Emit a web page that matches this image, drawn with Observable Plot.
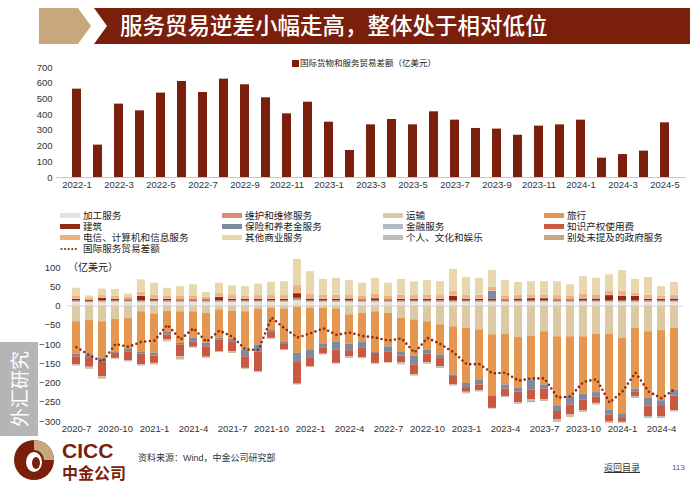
<!DOCTYPE html>
<html><head><meta charset="utf-8">
<script src="https://cdn.jsdelivr.net/npm/d3@7"></script>
<script src="https://cdn.jsdelivr.net/npm/@observablehq/plot@0.6"></script>
<style>
body{margin:0;width:700px;height:490px;position:relative;overflow:hidden;background:#fff;font-family:"Liberation Sans","Noto Sans CJK SC",sans-serif;color:#222;}
.abs{position:absolute;}
.lg{position:absolute;font-size:9.6px;line-height:11px;height:11px;white-space:nowrap;font-family:"Liberation Sans","Noto Sans CJK SC",sans-serif;display:flex;align-items:center;}
.sw{display:inline-block;width:20px;height:5px;margin-right:3px;}
</style></head><body>

<svg class="abs" style="left:0;top:0" width="700" height="52">
  <polygon points="39,8 78,8 91,26 78,44 39,44" fill="#c9a77c"/>
  <polygon points="94,8 690,8 690,44 94,44 107,26" fill="#7a1f0c"/>
  <text x="120" y="34" fill="#fff" font-size="22.5" font-weight="500" font-family="Noto Sans CJK SC">服务贸易逆差小幅走高，整体处于相对低位</text>
</svg>

<div class="abs" style="left:292px;top:58px;font-size:8.5px;font-family:'Liberation Sans','Noto Sans CJK SC';white-space:nowrap;line-height:10px;display:flex;align-items:center;"><span style="display:inline-block;width:7px;height:7px;background:#7a1f0c;margin-right:1px;"></span><span id="topLegendText"></span></div>
<div id="topchart" class="abs" style="left:0;top:55px"></div>

<div id="legend"></div>
<div class="abs" style="left:68px;top:262px;font-size:10px;font-family:'Liberation Sans','Noto Sans CJK SC';line-height:11px;">（亿美元）</div>
<div id="botchart" class="abs" style="left:0;top:258px"></div>

<div class="abs" style="left:0;top:342px;width:38px;height:94px;background:#b5b5b5;"></div>
<div class="abs" style="left:19px;top:389px;transform:translate(-50%,-50%) rotate(-90deg);color:#fff;font-size:19px;font-family:'Noto Sans CJK SC';white-space:nowrap;line-height:20px;">外汇研究</div>

<svg class="abs" style="left:0;top:436px" width="140" height="54">
  <circle cx="34" cy="24" r="20" fill="#7a1f0c"/>
  <path d="M34,4 A20,20 0 0 1 54,24 L44,24 A10,10 0 0 0 34,14 Z" fill="#c9a77c"/>
  <ellipse cx="34" cy="26" rx="8" ry="10" fill="#fff"/>
  <ellipse cx="36" cy="27" rx="4" ry="6" fill="#7a1f0c"/>
  <text x="62" y="22" fill="#7a1f0c" font-size="21" font-weight="bold" font-family="Liberation Sans">CICC</text>
  <text x="62" y="43" fill="#7a1f0c" font-size="16" font-weight="bold" font-family="Noto Sans CJK SC">中金公司</text>
</svg>
<div class="abs" style="left:138px;top:452px;font-size:9px;font-family:'Liberation Sans','Noto Sans CJK SC';line-height:12px;color:#333;">资料来源：Wind，中金公司研究部</div>
<div class="abs" style="left:604px;top:462px;font-size:9px;font-family:'Liberation Sans','Noto Sans CJK SC';line-height:12px;color:#333;text-decoration:underline;">返回目录</div>
<div class="abs" style="left:672px;top:462px;font-size:8px;line-height:12px;color:#555;">113</div>

<script>
// ---------- top chart data ----------
const topMonths = ["2022-1","2022-2","2022-3","2022-4","2022-5","2022-6","2022-7","2022-8","2022-9","2022-10","2022-11","2022-12",
  "2023-1","2023-2","2023-3","2023-4","2023-5","2023-6","2023-7","2023-8","2023-9","2023-10","2023-11","2023-12",
  "2024-1","2024-2","2024-3","2024-4","2024-5"];
const topValues = [562,206,467,424,537,611,541,626,590,507,405,479,352,172,335,369,335,418,365,312,308,269,327,335,365,123,146,168,348];
const topTicks = topMonths.filter((d,i)=>i%2===0);
const topLegend = "国际货物和服务贸易差额（亿美元）";

// ---------- bottom chart data ----------
const months = ["2020-7","2020-8","2020-9","2020-10","2020-11","2020-12",
  "2021-1","2021-2","2021-3","2021-4","2021-5","2021-6","2021-7","2021-8","2021-9","2021-10","2021-11","2021-12",
  "2022-1","2022-2","2022-3","2022-4","2022-5","2022-6","2022-7","2022-8","2022-9","2022-10","2022-11","2022-12",
  "2023-1","2023-2","2023-3","2023-4","2023-5","2023-6","2023-7","2023-8","2023-9","2023-10","2023-11","2023-12",
  "2024-1","2024-2","2024-3","2024-4","2024-5"];
const monthTicks = months.filter((d,i)=>i%3===0);

const processing   = [10,9,10,10,10,10,10,10,10,10,10,10,10,10,10,10,10,14,10,10,10,10,10,10,10,10,10,10,10,10,10,10,10,10,10,10,10,10,10,10,10,10,10,10,10,10,10];
const maintenance  = [3,3,3,3,3,3,3,3,3,3,3,3,3,3,3,3,3,6,3,3,3,3,3,3,3,3,3,3,3,3,3,3,3,3,3,3,3,3,3,3,3,3,3,3,3,3,3];
const transport    = [-41,-38,-41,-35,-32,-15,-21,-14,-15,-15,-19,-10,-14,-15,-8,-6,-8,-3,-6,-6,-8,-23,-19,-15,-19,-32,-36,-41,-49,-54,-58,-62,-75,-73,-81,-78,-67,-80,-80,-80,-73,-73,-84,-58,-67,-64,-58];
const travel       = [-84,-89,-95,-84,-81,-104,-102,-53,-82,-69,-78,-74,-73,-99,-93,-56,-85,-120,-108,-94,-85,-76,-76,-104,-87,-87,-94,-73,-78,-125,-143,-130,-160,-132,-133,-114,-138,-181,-155,-149,-152,-197,-196,-158,-173,-182,-160];
const construction = [4,3,7,4,3,12,4,4,3,3,3,9,4,4,4,4,4,12,5,4,4,5,3,6,3,4,4,4,4,12,4,4,5,3,5,6,6,3,3,5,5,14,12,12,4,4,5];
const insurance    = [-7,-7,-9,-4,-6,-6,-7,-8,-4,-9,-9,-4,-8,-18,-18,-5,-5,-24,-22,-10,-21,-17,-15,-4,-13,-11,-23,-11,-9,-4,-11,-13,20,-11,-9,-26,-11,-13,-22,-15,-12,-13,-10,-7,-20,-15,-16];
const finance      = [1,1,1,1,1,1,1,1,1,1,1,1,1,1,1,1,1,1,1,1,1,1,1,1,1,1,1,1,1,1,1,1,1,1,1,1,1,1,1,1,1,1,1,1,1,1,1];
const ipCharges    = [-21,-25,-39,-13,-23,-28,-19,-12,-31,-14,-27,-31,-24,-30,-52,-17,-16,-56,-22,-15,-35,-16,-24,-26,-28,-17,-26,-22,-22,-22,-12,-15,-31,-19,-28,-26,-28,-22,-26,-28,-16,-17,-12,-12,-27,-26,-38];
const telecom      = [8,4,6,7,5,10,10,8,8,9,6,9,9,8,9,9,9,20,12,10,10,10,9,10,9,10,9,10,9,12,10,10,10,9,9,9,9,10,9,12,10,10,12,8,10,8,9];
const otherBiz     = [20,6,17,18,9,32,31,20,25,29,12,27,25,24,30,35,36,68,58,41,44,37,33,42,33,41,36,38,36,57,46,44,43,40,33,34,34,36,29,45,43,43,54,35,46,24,33];
const personal     = [-2,-3,-4,-2,-2,-2,-2,-4,-5,-2,-2,-1,-2,-2,-1,-2,-1,-1,-1,-1,-1,-2,-2,-2,-1,-4,-2,-2,-2,-2,-2,-2,-1,-2,-2,-4,-2,-4,-4,-3,-2,-3,-2,-3,-3,-3,-2];
const government   = [-1,-2,-2,-1,-1,-1,-2,-2,-3,-1,-1,-1,-2,-1,-1,-1,-1,-1,-1,-1,-1,-2,-1,-1,-1,-2,-1,-2,-2,-1,-2,-1,-1,-1,-2,-3,-2,-2,-2,-2,-2,-2,-1,-2,-2,-2,-1];
const totalBalance = [-107,-128,-145,-99,-106,-93,-90,-49,-87,-58,-93,-64,-80,-113,-114,-30,-58,-82,-71,-58,-75,-69,-78,-82,-90,-84,-121,-83,-99,-120,-151,-151,-175,-173,-194,-188,-188,-238,-235,-197,-190,-251,-222,-173,-222,-240,-216];

const seriesNames = ["加工服务","维护和维修服务","运输","旅行","建筑","保险和养老金服务","金融服务","知识产权使用费","电信、计算机和信息服务","其他商业服务","个人、文化和娱乐","别处未提及的政府服务"];
const seriesColors = ["#e4e1e1","#d98c72","#dccaa6","#e5964f","#8e2a15","#7f8a9f","#b4b9c8","#c95a41","#efb27c","#e8d6ad","#bdbdbd","#c9a87c"];
const lineName = "国际服务贸易差额";
const lineColor = "#8e2a15";
const seriesData = [processing, maintenance, transport, travel, construction, insurance, finance, ipCharges, telecom, otherBiz, personal, government];

document.getElementById("topLegendText").textContent = topLegend;

// ---------- top chart ----------
const topRows = topMonths.map((m,i)=>({month:m, value:topValues[i]}));
document.getElementById("topchart").append(Plot.plot({
  width:700, height:142, marginTop:12, marginBottom:20, marginLeft:56, marginRight:14,
  style:{fontSize:"9.5px", fontFamily:"Liberation Sans", color:"#333", background:"transparent"},
  x:{domain:topMonths, padding:0.56, label:null, tickSize:0, tickPadding:4, ticks:topTicks},
  y:{domain:[0,700], ticks:d3.range(0,701,100), label:null, tickSize:0, tickPadding:4},
  marks:[
    Plot.barY(topRows, {x:"month", y:"value", fill:"#7a1f0c"}),
    Plot.ruleY([0], {stroke:"#c8c8c8"})
  ]
}));

// ---------- legend ----------
const lg = document.getElementById("legend");
const colX = [60, 222, 383, 544];
const rowY = [210, 221, 232, 243];
seriesNames.forEach((n,i)=>{
  const d = document.createElement("div");
  d.className = "lg";
  d.style.left = colX[i%4] + "px";
  d.style.top = rowY[Math.floor(i/4)] + "px";
  d.innerHTML = `<span class="sw" style="background:${seriesColors[i]}"></span><span>${n}</span>`;
  lg.append(d);
});
{
  const d = document.createElement("div");
  d.className = "lg";
  d.style.left = colX[0] + "px";
  d.style.top = rowY[3] + "px";
  d.innerHTML = `<svg width="20" height="6" style="margin-right:3px"><line x1="1.5" y1="3" x2="19" y2="3" stroke="${lineColor}" stroke-width="2.2" stroke-dasharray="0 3.6" stroke-linecap="round"/></svg><span>${lineName}</span>`;
  lg.append(d);
}

// ---------- bottom chart ----------
const rows = [];
seriesNames.forEach((n,si)=>{
  months.forEach((m,i)=>rows.push({month:m, series:n, value:seriesData[si][i]}));
});
const lineRows = months.map((m,i)=>({month:m, total:totalBalance[i]}));

document.getElementById("botchart").append(Plot.plot({
  width:700, height:185, marginTop:9, marginBottom:22, marginLeft:67, marginRight:17,
  style:{fontSize:"9.5px", fontFamily:"Liberation Sans", color:"#333", background:"transparent"},
  x:{domain:months, padding:0.38, label:null, tickSize:0, tickPadding:4, ticks:monthTicks},
  y:{domain:[-300,100], ticks:d3.range(-300,101,50), label:null, tickSize:0, tickPadding:7},
  color:{domain:seriesNames, range:seriesColors},
  marks:[
    Plot.ruleY([0], {stroke:"#c6d3e6", strokeWidth:1.2}),
    Plot.barY(rows, Plot.stackY({x:"month", y:"value", fill:"series", order:seriesNames})),
    Plot.line(lineRows, {x:"month", y:"total", stroke:lineColor, strokeWidth:2.6, strokeDasharray:"0 4.6", strokeLinecap:"round"})
  ]
}));
</script>
</body></html>
